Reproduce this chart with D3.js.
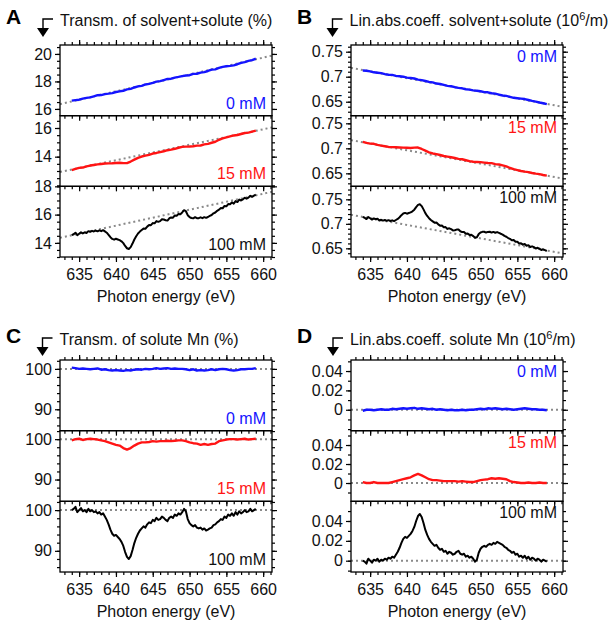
<!DOCTYPE html>
<html><head><meta charset="utf-8">
<script src="https://cdn.jsdelivr.net/npm/d3@7"></script>
<style>
body{margin:0;background:#fff}
text{font-family:"Liberation Sans",Arial,Helvetica,sans-serif}
</style>
</head><body>
<svg id="chart" width="616" height="626" xmlns="http://www.w3.org/2000/svg"></svg>
<script>
// ---------------- data ----------------
const energyMid = [634,634.5,635,635.5,636,636.5,637,637.5,638,638.5,639,639.5,640,640.5,641,641.5,642,642.5,643,643.5,644,644.5,645,645.5,646,646.5,647,647.5,648,648.5,649,649.5,650,650.5,651,651.5,652,652.5,653,653.5,654,654.5,655,655.5,656,656.5,657,657.5,658,658.5,659];
const energyFine = [634,634.25,634.5,634.75,635,635.25,635.5,635.75,636,636.25,636.5,636.75,637,637.25,637.5,637.75,638,638.25,638.5,638.75,639,639.25,639.5,639.75,640,640.25,640.5,640.75,641,641.25,641.5,641.75,642,642.25,642.5,642.75,643,643.25,643.5,643.75,644,644.25,644.5,644.75,645,645.25,645.5,645.75,646,646.25,646.5,646.75,647,647.25,647.5,647.75,648,648.25,648.5,648.75,649,649.25,649.5,649.75,650,650.25,650.5,650.75,651,651.25,651.5,651.75,652,652.25,652.5,652.75,653,653.25,653.5,653.75,654,654.25,654.5,654.75,655,655.25,655.5,655.75,656,656.25,656.5,656.75,657,657.25,657.5,657.75,658,658.25,658.5,658.75,659];

const concLabels = ["0 mM", "15 mM", "100 mM"];
const xTickValues = [635, 640, 645, 650, 655, 660];
const baseEnergy = [632.4, 661.2];

// Panel A: transmission of solvent+solute (%)
const transA0 = [16.60,16.64,16.67,16.75,16.80,16.84,16.92,17.00,17.01,17.08,17.11,17.15,17.23,17.28,17.32,17.42,17.46,17.56,17.64,17.68,17.78,17.82,17.90,17.99,18.02,18.10,18.18,18.20,18.28,18.33,18.39,18.43,18.45,18.55,18.56,18.64,18.68,18.76,18.86,18.88,18.98,19.06,19.10,19.13,19.17,19.25,19.35,19.41,19.49,19.55,19.65];
const transA15 = [13.06,13.15,13.22,13.24,13.32,13.38,13.42,13.46,13.49,13.52,13.53,13.54,13.56,13.58,13.55,13.55,13.66,13.79,13.92,14.01,14.07,14.13,14.22,14.26,14.32,14.38,14.45,14.49,14.55,14.62,14.68,14.70,14.71,14.73,14.77,14.78,14.86,14.89,14.97,15.04,15.18,15.27,15.35,15.42,15.48,15.51,15.58,15.65,15.68,15.75,15.82];
const transA100 = [14.54,14.61,14.72,14.55,14.65,14.75,14.67,14.74,14.70,14.83,
 14.78,14.85,14.81,14.87,14.82,14.89,14.83,14.90,14.81,14.72,
 14.57,14.40,14.28,14.23,14.29,14.24,14.19,14.11,13.98,13.78,
 13.62,13.57,13.70,13.95,14.24,14.47,14.66,14.80,14.91,15.01,
 15.00,15.15,15.26,15.25,15.40,15.38,15.54,15.49,15.54,15.67,
 15.65,15.60,15.58,15.74,15.80,15.78,15.94,15.92,16.05,16.03,
 16.15,16.31,16.24,15.96,15.83,15.76,15.74,15.82,15.75,15.75,
 15.81,15.75,15.82,15.77,15.83,15.91,15.97,16.09,16.15,16.27,
 16.35,16.46,16.45,16.61,16.59,16.75,16.73,16.86,16.78,16.96,
 16.89,17.06,17.00,17.08,17.19,17.13,17.20,17.33,17.26,17.34,
 17.41];
const baseA0 = [16.35, 19.88];
const baseA15 = [12.93, 16.04];
const baseA100 = [14.36, 17.61];

// Panel B: linear absorption coefficient solvent+solute (10^6/m)
const absB0 = [0.7124,0.7120,0.7107,0.7088,0.7080,0.7071,0.7053,0.7039,0.7036,0.7017,0.7009,0.7000,0.6981,0.6973,0.6964,0.6941,0.6932,0.6914,0.6895,0.6887,0.6863,0.6854,0.6836,0.6817,0.6809,0.6790,0.6777,0.6768,0.6750,0.6741,0.6727,0.6719,0.6710,0.6692,0.6688,0.6670,0.6661,0.6643,0.6624,0.6616,0.6597,0.6578,0.6570,0.6561,0.6553,0.6534,0.6516,0.6502,0.6484,0.6470,0.6451];
const absB15 = [0.7131,0.7108,0.7094,0.7091,0.7068,0.7054,0.7041,0.7028,0.7024,0.7021,0.7018,0.7014,0.7011,0.7007,0.7014,0.7016,0.6987,0.6954,0.6921,0.6897,0.6884,0.6866,0.6847,0.6834,0.6821,0.6807,0.6789,0.6781,0.6762,0.6744,0.6731,0.6727,0.6724,0.6715,0.6707,0.6704,0.6685,0.6677,0.6659,0.6640,0.6607,0.6584,0.6565,0.6547,0.6534,0.6525,0.6507,0.6494,0.6485,0.6467,0.6454];
const absB100 = [0.7141,0.7124,0.7097,0.7140,0.7114,0.7087,0.7110,0.7093,0.7106,0.7069,
 0.7082,0.7066,0.7079,0.7062,0.7075,0.7058,0.7071,0.7055,0.7078,0.7101,
 0.7134,0.7177,0.7210,0.7223,0.7207,0.7220,0.7233,0.7256,0.7289,0.7342,
 0.7386,0.7399,0.7362,0.7295,0.7218,0.7161,0.7115,0.7078,0.7051,0.7024,
 0.7027,0.6990,0.6963,0.6967,0.6930,0.6933,0.6896,0.6909,0.6892,0.6866,
 0.6869,0.6882,0.6885,0.6848,0.6831,0.6834,0.6798,0.6801,0.6774,0.6777,
 0.6750,0.6713,0.6726,0.6790,0.6823,0.6836,0.6839,0.6822,0.6835,0.6839,
 0.6822,0.6835,0.6818,0.6831,0.6814,0.6797,0.6781,0.6754,0.6737,0.6710,
 0.6693,0.6666,0.6670,0.6633,0.6636,0.6599,0.6602,0.6575,0.6588,0.6552,
 0.6565,0.6528,0.6541,0.6524,0.6497,0.6511,0.6494,0.6467,0.6480,0.6463,
 0.6446];
const baseB0 = [0.7177, 0.6397];
const baseB15 = [0.7164, 0.6395];
const baseB100 = [0.7185, 0.6396];

// Panel C: transmission of solute Mn (%)
const transC0 = [100.3,100.2,100.0,100.1,100.0,99.9,100.0,100.1,99.8,99.9,
 99.7,99.6,99.7,99.6,99.5,99.7,99.6,99.8,99.9,99.8,
 100.0,99.9,100.0,100.2,100.0,100.1,100.2,100.0,100.1,100.0,
 100.0,99.9,99.7,99.9,99.6,99.7,99.6,99.7,99.9,99.7,
 99.9,100.0,99.9,99.7,99.6,99.7,99.9,99.9,100.0,100.0,
 100.2];
const transC15 = [99.7,100.0,100.1,99.8,100.0,100.1,100.0,99.9,99.7,99.5,
 99.2,98.9,98.6,98.4,97.8,97.4,97.8,98.4,98.9,99.2,
 99.2,99.3,99.5,99.4,99.5,99.5,99.6,99.5,99.6,99.7,
 99.7,99.5,99.2,99.0,98.9,98.6,98.8,98.6,98.8,98.9,
 99.5,99.7,99.9,100.0,100.0,99.9,100.0,100.1,99.9,100.0,
 100.1];
const transC100 = [100.0,100.3,100.8,99.5,100.0,100.5,99.7,100.0,99.5,100.3,
 99.7,100.0,99.5,99.7,99.2,99.5,98.9,99.2,98.4,97.6,
 96.5,95.2,94.2,93.7,93.9,93.4,92.9,92.2,91.2,89.7,
 88.5,88.0,88.7,90.2,91.9,93.2,94.2,95.0,95.5,96.0,
 95.7,96.5,97.0,96.8,97.6,97.3,98.1,97.6,97.8,98.4,
 98.1,97.6,97.3,98.1,98.4,98.1,98.9,98.6,99.2,98.9,
 99.5,100.3,99.7,97.8,96.8,96.3,96.0,96.3,95.7,95.5,
 95.7,95.2,95.5,95.0,95.2,95.5,95.7,96.3,96.5,97.0,
 97.3,97.8,97.6,98.4,98.1,98.9,98.6,99.2,98.6,99.5,
 98.9,99.7,99.2,99.5,100.0,99.5,99.7,100.3,99.7,100.0,
 100.3];
const baseC = [100, 100];

// Panel D: linear absorption coefficient solute Mn (10^6/m)
const absD0 = [-0.001,0.000,0.000,-0.0005,0.000,0.0005,0.000,0.000,0.001,0.0005,
 0.001,0.0015,0.001,0.0015,0.002,0.001,0.0015,0.001,0.0005,0.001,
 0.000,0.0005,0.000,-0.0005,0.000,-0.0005,-0.0005,0.000,-0.0005,0.000,
 0.000,0.0005,0.001,0.0005,0.0015,0.001,0.0015,0.001,0.0005,0.001,
 0.0005,0.000,0.0005,0.001,0.0015,0.001,0.0005,0.0005,0.000,0.000,
 -0.0005];
const absD15 = [0.001,0.000,0.000,0.001,0.000,0.000,0.000,0.000,0.001,0.002,
 0.003,0.004,0.005,0.006,0.008,0.0095,0.008,0.006,0.004,0.003,
 0.003,0.0025,0.002,0.002,0.002,0.002,0.0015,0.002,0.0015,0.001,
 0.001,0.002,0.003,0.0035,0.004,0.005,0.0045,0.005,0.0045,0.004,
 0.002,0.001,0.0005,0.000,0.000,0.0005,0.000,0.000,0.0005,0.000,
 0.000];
const absD100 = [0.000,-0.001,-0.003,0.002,0.000,-0.002,0.001,0.000,0.002,-0.001,
 0.001,0.000,0.002,0.001,0.003,0.002,0.004,0.003,0.006,0.009,
 0.013,0.018,0.022,0.024,0.023,0.025,0.027,0.030,0.034,0.040,
 0.045,0.047,0.044,0.038,0.031,0.026,0.022,0.019,0.017,0.015,
 0.016,0.013,0.011,0.012,0.009,0.010,0.007,0.009,0.008,0.006,
 0.007,0.009,0.010,0.007,0.006,0.007,0.004,0.005,0.003,0.004,
 0.002,-0.001,0.001,0.008,0.012,0.014,0.015,0.014,0.016,0.017,
 0.016,0.018,0.017,0.019,0.018,0.017,0.016,0.014,0.013,0.011,
 0.010,0.008,0.009,0.006,0.007,0.004,0.005,0.003,0.005,0.002,
 0.004,0.001,0.003,0.002,0.000,0.002,0.001,-0.001,0.001,0.000,
 -0.001];
const baseD = [0, 0];

// tick labels
const yTicksA = [[16, 18, 20], [14, 16], [14, 16, 18]];
const yTicksB = [[0.65, 0.7, 0.75], [0.65, 0.7, 0.75], [0.65, 0.7, 0.75]];
const yTicksC = [[90, 100], [90, 100], [90, 100]];
const yTicksD = [[0, 0.02, 0.04], [0, 0.02, 0.04], [0, 0.02, 0.04]];

// ---------------- layout ----------------
const colors = ["#1414ff", "#ff1414", "#000000"];
const W = 212, H = 70.67;
const xDomain = [632.4, 661.2];

const panels = [
  {letter: "A", left: 60, top: 45, titleX: 60, titleY: 26, title: ["Transm. of solvent+solute (%)"], labelPos: "bottom", minor: 0.5,
   subs: [
     {energy: energyMid, values: transA0, base: baseA0, domain: [15.51, 20.65], ticks: yTicksA[0]},
     {energy: energyMid, values: transA15, base: baseA15, domain: [11.93, 16.86], ticks: yTicksA[1]},
     {energy: energyFine, values: transA100, base: baseA100, domain: [13.0, 18.0], ticks: yTicksA[2]}]},
  {letter: "B", left: 351, top: 45, titleX: 349.5, titleY: 26, title: ["Lin.abs.coeff. solvent+solute (10", "6", "/m)"], labelPos: "top", minor: 0.01,
   subs: [
     {energy: energyMid, values: absB0, base: baseB0, domain: [0.6221, 0.7634], ticks: yTicksB[0]},
     {energy: energyMid, values: absB15, base: baseB15, domain: [0.624, 0.7653], ticks: yTicksB[1]},
     {energy: energyFine, values: absB100, base: baseB100, domain: [0.6323, 0.7765], ticks: yTicksB[2]}]},
  {letter: "C", left: 60, top: 360, titleX: 59.5, titleY: 345, title: ["Transm. of solute Mn (%)"], labelPos: "bottom", minor: 2,
   subs: [
     {energy: energyMid, values: transC0, base: baseC, domain: [84.7, 102.2], ticks: yTicksC[0]},
     {energy: energyMid, values: transC15, base: baseC, domain: [84.6, 102.1], ticks: yTicksC[1]},
     {energy: energyFine, values: transC100, base: baseC, domain: [84.8, 102.15], ticks: yTicksC[2]}]},
  {letter: "D", left: 351, top: 360, titleX: 350, titleY: 345, title: ["Lin.abs.coeff. solute Mn (10", "6", "/m)"], labelPos: "top", minor: 0.01,
   subs: [
     {energy: energyMid, values: absD0, base: baseD, domain: [-0.0216, 0.0514], ticks: yTicksD[0]},
     {energy: energyMid, values: absD15, base: baseD, domain: [-0.0193, 0.0551], ticks: yTicksD[1]},
     {energy: energyFine, values: absD100, base: baseD, domain: [-0.0114, 0.0598], ticks: yTicksD[2]}]}
];

const svg = d3.select("#chart");
svg.append("rect").attr("width", 616).attr("height", 626).attr("fill", "#fff");

function minorTicks(domain, step) {
  const a = Math.ceil(domain[0] / step - 1e-9), b = Math.floor(domain[1] / step + 1e-9);
  return d3.range(a, b + 1).map(i => +(i * step).toFixed(6));
}

function styleAxis(sel) {
  sel.select(".domain").remove();
  sel.selectAll(".tick line").attr("stroke", "#000").attr("stroke-width", 1.2);
  sel.selectAll(".tick text").attr("font-size", 16).attr("fill", "#111")
     .attr("font-family", '"Liberation Sans", Arial, sans-serif');
}

const fmt = d => String(d);

panels.forEach(p => {
  const x = d3.scaleLinear(xDomain, [p.left, p.left + W]);
  const xMinor = minorTicks(xDomain, 1);

  // panel letter
  svg.append("text").attr("x", p.left - 54).attr("y", p.titleY - 2.5)
     .attr("font-size", 21).attr("font-weight", "bold").attr("fill", "#000").text(p.letter);

  // title
  const t = svg.append("text").attr("x", p.titleX).attr("y", p.titleY)
     .attr("font-size", 16).attr("fill", "#111");
  t.append("tspan").text(p.title[0]);
  if (p.title.length > 1) {
    t.append("tspan").attr("font-size", 11).attr("dy", -6).text(p.title[1]);
    t.append("tspan").attr("dy", 6).text(p.title[2]);
  }

  // bent arrow
  const ax = p.titleX - 17, ay = p.titleY - 7;
  svg.append("path").attr("d", `M${p.titleX - 7},${ay}H${ax}V${ay + 10}`)
     .attr("fill", "none").attr("stroke", "#000").attr("stroke-width", 1.4);
  svg.append("path").attr("d", `M${ax - 6},${ay + 9}L${ax + 6},${ay + 9}L${ax},${ay + 18}Z`).attr("fill", "#000");

  p.subs.forEach((s, k) => {
    const top = p.top + k * H, bot = top + H;
    const y = d3.scaleLinear(s.domain, [bot, top]);
    const g = svg.append("g");
    const line = d3.line().x(d => x(d[0])).y(d => y(d[1]));

    // dotted baseline
    g.append("path").datum(baseEnergy.map((e, i) => [e, s.base[i]]))
     .attr("d", line).attr("fill", "none").attr("stroke", "#8a8a8a")
     .attr("stroke-width", 2).attr("stroke-dasharray", "2,3");

    // data
    g.append("path").datum(s.energy.map((e, i) => [e, s.values[i]]))
     .attr("d", line).attr("fill", "none").attr("stroke", colors[k])
     .attr("stroke-width", k === 2 ? 2 : 2.4).attr("stroke-linejoin", "round");

    // frame
    g.append("rect").attr("x", p.left).attr("y", top).attr("width", W).attr("height", H)
     .attr("fill", "none").attr("stroke", "#000").attr("stroke-width", 1.3);

    const yMinor = minorTicks(s.domain, p.minor);
    // left axis
    g.append("g").attr("transform", `translate(${p.left},0)`)
     .call(d3.axisLeft(y).tickValues(yMinor).tickSize(3).tickFormat("")).call(styleAxis);
    g.append("g").attr("transform", `translate(${p.left},0)`)
     .call(d3.axisLeft(y).tickValues(s.ticks).tickSize(5).tickPadding(3).tickFormat(fmt)).call(styleAxis);
    // right axis
    g.append("g").attr("transform", `translate(${p.left + W},0)`)
     .call(d3.axisRight(y).tickValues(yMinor).tickSize(3).tickFormat("")).call(styleAxis);
    g.append("g").attr("transform", `translate(${p.left + W},0)`)
     .call(d3.axisRight(y).tickValues(s.ticks).tickSize(5).tickFormat("")).call(styleAxis);
    // bottom axis ticks
    g.append("g").attr("transform", `translate(0,${bot})`)
     .call(d3.axisBottom(x).tickValues(xMinor).tickSize(3).tickFormat("")).call(styleAxis);
    g.append("g").attr("transform", `translate(0,${bot})`)
     .call(d3.axisBottom(x).tickValues(xTickValues).tickSize(5).tickPadding(7)
       .tickFormat(k === 2 ? fmt : "")).call(styleAxis);
    // top ticks for first subplot
    if (k === 0) {
      g.append("g").attr("transform", `translate(0,${top})`)
       .call(d3.axisTop(x).tickValues(xMinor).tickSize(3).tickFormat("")).call(styleAxis);
      g.append("g").attr("transform", `translate(0,${top})`)
       .call(d3.axisTop(x).tickValues(xTickValues).tickSize(5).tickFormat("")).call(styleAxis);
    }

    // concentration label
    g.append("text").attr("x", p.left + W - 6)
     .attr("y", p.labelPos === "bottom" ? bot - 7 : top + 17)
     .attr("text-anchor", "end").attr("font-size", 16)
     .attr("fill", k === 2 ? "#111" : colors[k]).text(concLabels[k]);

    if (k === 2) {
      svg.append("text").attr("x", p.left + W / 2).attr("y", bot + 45)
       .attr("text-anchor", "middle").attr("font-size", 16).attr("fill", "#111")
       .text("Photon energy (eV)");
    }
  });
});
</script>
</body></html>
